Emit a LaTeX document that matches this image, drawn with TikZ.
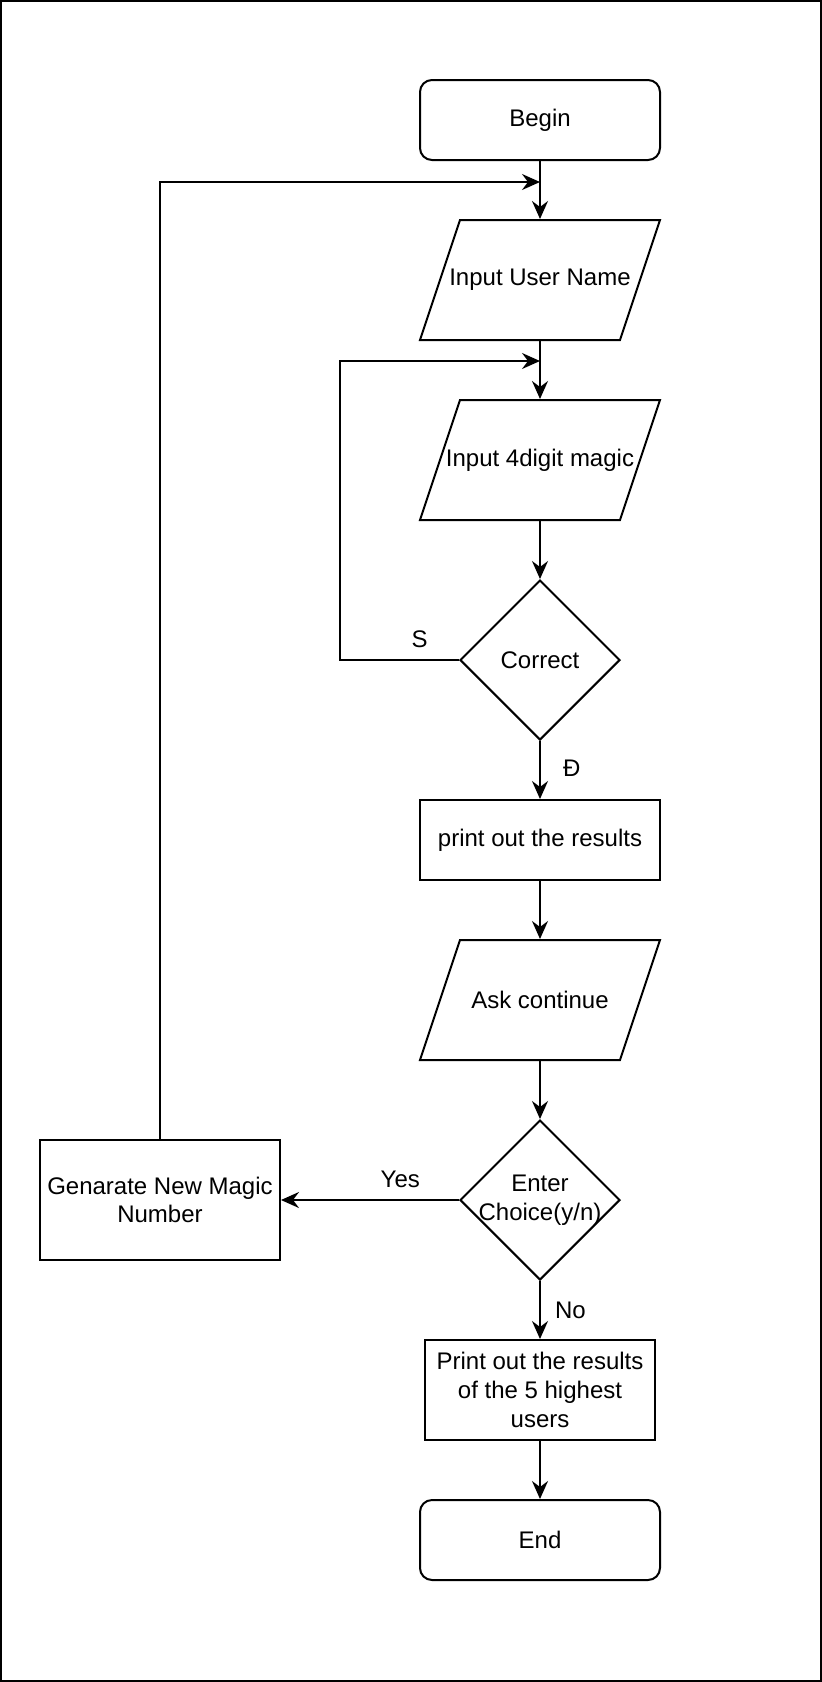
\documentclass[tikz,border=0pt]{standalone}
\usepackage{fontspec}
\setmainfont{Liberation Sans}
\usetikzlibrary{shapes.geometric,arrows.meta}
\begin{document}
\begin{tikzpicture}[x=1pt,y=-1pt,line width=1pt,
  every node/.style={font=\fontsize{12pt}{14.4pt}\selectfont, inner sep=0pt},
  terminal/.style={draw, rounded corners=6pt, minimum width=120pt, minimum height=40pt},
  process/.style={draw, rectangle, minimum width=120pt, minimum height=40pt, align=center},
  io/.style={draw, trapezium, trapezium left angle=71.565, trapezium right angle=108.435,
    text height=9pt, text depth=3pt, inner ysep=24pt, inner xsep=0pt,
    trapezium stretches body=true, minimum width=120pt, label={center:#1}},
  decision/.style={draw, diamond, minimum width=80pt, minimum height=80pt},
  flow/.style={-{Stealth[length=9pt,width=8pt,inset=3pt]}},
  lbl/.style={inner sep=2pt}]
\useasboundingbox (0,0) rectangle (411,841);
\draw (0.5,0.5) rectangle (410.5,840.5);
\node [terminal] (begin) at (270,60) {Begin};
\node [io={Input User Name}] (uname) at (270,140) {};
\node [io={Input 4digit magic}] (magic) at (270,230) {};
\node [decision, label={center:Correct}] (correct) at (270,330) {};
\node [process] (results) at (270,420) {print out the results};
\node [io={Ask continue}] (ask) at (270,500) {};
\node [decision, label={[align=center]center:Enter\\Choice(y/n)}] (choice) at (270,600) {};
\node [process, minimum height=60pt] (gen) at (80,600) {Genarate New Magic\\Number};
\node [process, minimum width=115pt, minimum height=50pt] (top5) at (270,695) {Print out the results\\of the 5 highest\\users};
\node [terminal] (end) at (270,770) {End};
\coordinate (j1) at (270,91);
\coordinate (j2) at (270,180.5);
\coordinate (loopS) at (170,330);
\draw [flow] (begin) -- (uname);
\draw [flow] (gen.north) |- (j1);
\draw [flow] (uname) -- (magic);
\draw [flow] (correct.west) -- node [lbl, pos=0.33, above=3.5pt] {S} (loopS) |- (j2);
\draw [flow] (magic) -- (correct);
\draw [flow] (correct) -- node [lbl, right, xshift=9pt, yshift=1pt] {Đ} (results);
\draw [flow] (results) -- (ask);
\draw [flow] (ask) -- (choice);
\draw [flow] (choice) -- node [lbl, pos=0.33, above=3.5pt] {Yes} (gen);
\draw [flow] (choice) -- node [lbl, right, xshift=5pt] {No} (top5);
\draw [flow] (top5) -- (end);
\end{tikzpicture}
\end{document}
